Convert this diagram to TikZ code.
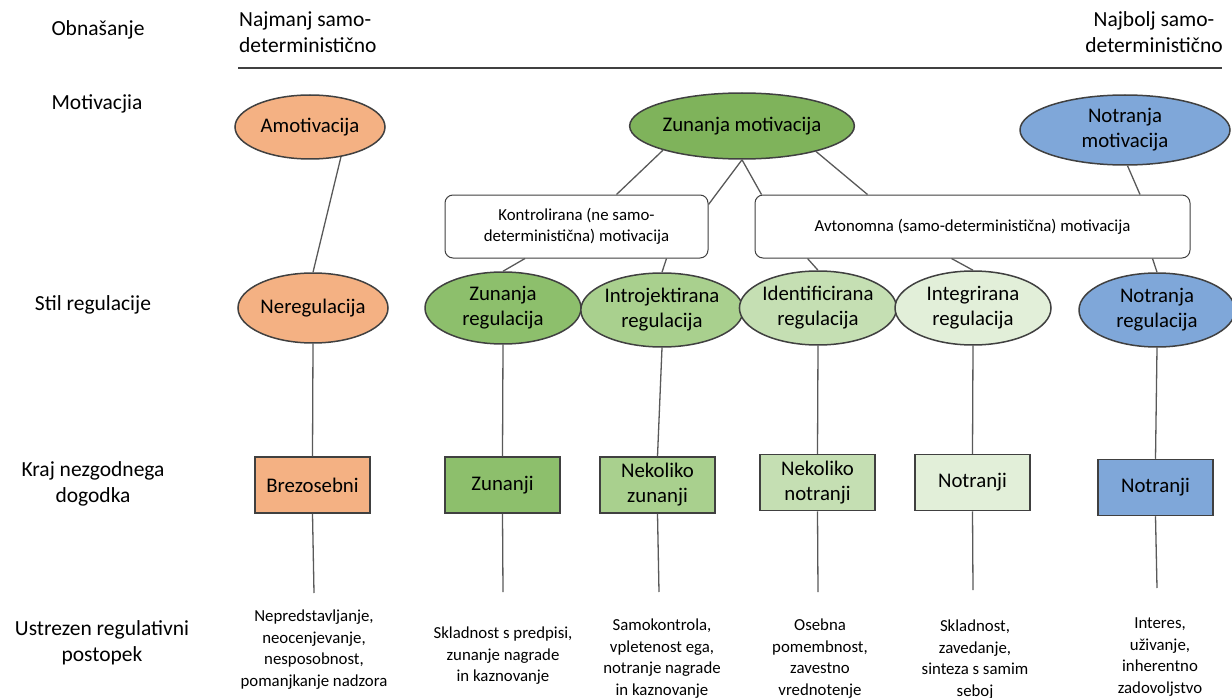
\documentclass[tikz,border=0pt]{standalone}
\usepackage{fontspec}
\setmainfont{Carlito}
\usetikzlibrary{shapes.geometric}
\definecolor{edge}{HTML}{404040}
\definecolor{linec}{HTML}{595959}
\definecolor{corange}{HTML}{F4B183}
\definecolor{cgreenA}{HTML}{7FB35B}
\definecolor{cgreenB}{HTML}{8DBF6C}
\definecolor{cgreenC}{HTML}{A9D08E}
\definecolor{cgreenD}{HTML}{C5DFB3}
\definecolor{cgreenE}{HTML}{E2EFD9}
\definecolor{cblue}{HTML}{7FA7D9}
\begin{document}
\begin{tikzpicture}[x=1pt,y=-1pt,
  ell/.style={ellipse, draw=edge, line width=1.5pt, inner sep=0pt, align=center,
    font=\fontsize{20.8}{25}\selectfont},
  sq/.style={rectangle, draw=edge, line width=1.5pt, minimum width=115pt, minimum height=56pt,
    inner sep=0pt, align=center, font=\fontsize{20.8}{25}\selectfont},
  rbox/.style={rectangle, rounded corners=8pt, draw=edge, line width=1pt, fill=white,
    inner sep=0pt, align=center, font=\fontsize{16.8}{21}\selectfont},
  conn/.style={draw=linec, line width=1.3pt},
  lab/.style={align=center, inner sep=0pt, font=\fontsize{21.5}{26}\selectfont},
  desc/.style={align=center, anchor=north, inner sep=0pt, font=\fontsize{16.8}{21.5}\selectfont}]
\useasboundingbox (0,0) rectangle (1232,698);

% left labels
\node[lab] (l1) at (98,30) {Obnašanje};
\node[lab] (l2) at (97,104) {Motivacjia};
\node[lab] (l3) at (93,305) {Stil regulacije};
\node[lab] (l4) at (93,484) {Kraj nezgodnega\\dogodka};
\node[lab] (l5) at (102,643) {Ustrezen regulativni\\postopek};

% header
\node[lab, align=left, anchor=west] (h1) at (239,32) {Najmanj samo-\\deterministično};
\node[lab, align=center] (h2) at (1154,32) {Najbolj samo-\\deterministično};
\coordinate (hl) at (238,68);
\coordinate (hr) at (1222,68);
\draw[draw=edge, line width=2.4pt] (hl) -- (hr);

% motivation
\node[ell, fill=corange, minimum width=150pt, minimum height=64pt] (am) at (310,127) {Amotivacija};
\node[ell, fill=cgreenA, minimum width=220pt, minimum height=66pt] (zm) at (742,126) {Zunanja motivacija};
\node[ell, fill=cblue, minimum width=210pt, minimum height=70pt] (nm) at (1125,130) {Notranja\\motivacija};

% boxes
\node[rbox, minimum width=263pt, minimum height=63pt] (kon) at (576.5,226.5) {Kontrolirana (ne samo-\\deterministična) motivacija};
\node[rbox, minimum width=435pt, minimum height=63pt] (av) at (972.5,226.5) {Avtonomna (samo-deterministična) motivacija};

% regulation styles
\node[ell, fill=corange, minimum width=150pt, minimum height=70pt] (nr) at (313,308) {Neregulacija};
\node[ell, fill=cgreenB, minimum width=156pt, minimum height=72pt] (zr) at (503,308) {Zunanja\\regulacija};
\node[ell, fill=cgreenC, minimum width=160pt, minimum height=74pt] (ir) at (662,310) {Introjektirana\\regulacija};
\node[ell, fill=cgreenD, minimum width=156pt, minimum height=74pt] (id) at (818,308) {Identificirana\\regulacija};
\node[ell, fill=cgreenE, minimum width=156pt, minimum height=74pt] (ig) at (973,308) {Integrirana\\regulacija};
\node[ell, fill=cblue, minimum width=156pt, minimum height=74pt] (nrg) at (1157,310) {Notranja\\regulacija};

% locus
\node[sq, fill=corange] (b1) at (312.5,485) {Brezosebni};
\node[sq, fill=cgreenB] (b2) at (502.5,485) {Zunanji};
\node[sq, fill=cgreenC] (b3) at (657.5,485) {Nekoliko\\zunanji};
\node[sq, fill=cgreenD] (b4) at (817.5,482.5) {Nekoliko\\notranji};
\node[sq, fill=cgreenE] (b5) at (972.5,482.5) {Notranji};
\node[sq, fill=cblue] (b6) at (1155.5,487.5) {Notranji};

% line ends
\coordinate (e1) at (314,593);
\coordinate (e2) at (503,592);
\coordinate (e3) at (659,592);
\coordinate (e4) at (818,592);
\coordinate (e5) at (973,590);
\coordinate (e6) at (1157,588);

% descriptions
\node[desc] (d1) at (314,610) {Nepredstavljanje,\\neocenjevanje,\\nesposobnost,\\pomanjkanje nadzora};
\node[desc] (d2) at (503,627) {Skladnost s predpisi,\\zunanje nagrade\\in kaznovanje};
\node[desc] (d3) at (662,619) {Samokontrola,\\vpletenost ega,\\notranje nagrade\\in kaznovanje};
\node[desc] (d4) at (820,619) {Osebna\\pomembnost,\\zavestno\\vrednotenje};
\node[desc] (d5) at (975,620) {Skladnost,\\zavedanje,\\sinteza s samim\\seboj};
\node[desc] (d6) at (1160,618) {Interes,\\uživanje,\\inherentno\\zadovoljstvo};

% connectors
\draw[conn] (am.-44) -- (nr.north);
\draw[conn] (zm.-163) -- ([xshift=40pt]kon.north);
\draw[conn] (zm.south) -- ([yshift=-10pt]kon.north east);
\draw[conn] (zm.south) -- ([xshift=7pt]av.north west);
\draw[conn] (zm.-19) -- ([xshift=113pt]av.north west);
\draw[conn] (nm.-86) -- ([xshift=167.5pt]av.north);
\draw[conn] ([xshift=-51.5pt]kon.south) -- (zr.north);
\draw[conn] ([xshift=90pt]kon.south) -- (ir.north);
\draw[conn] ([xshift=53pt]av.south west) -- (id.north);
\draw[conn] ([xshift=197pt]av.south west) -- (ig.north);
\draw[conn] ([xshift=-38pt]av.south east) -- (nrg.north);
\draw[conn] (nr.south) -- (b1.north);
\draw[conn] (zr.south) -- (b2.north);
\draw[conn] (ir.south) -- (b3.north);
\draw[conn] (id.south) -- (b4.north);
\draw[conn] (ig.south) -- (b5.north);
\draw[conn] (nrg.south) -- (b6.north);
\draw[conn] (b1.south) -- (e1);
\draw[conn] (b2.south) -- (e2);
\draw[conn] (b3.south) -- (e3);
\draw[conn] (b4.south) -- (e4);
\draw[conn] (b5.south) -- (e5);
\draw[conn] (b6.south) -- (e6);
\end{tikzpicture}
\end{document}
